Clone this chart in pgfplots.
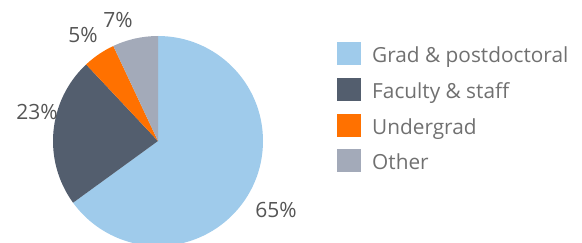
\documentclass[border=0pt]{standalone}
\usepackage{pgfplots}
\pgfplotsset{compat=1.18}
\usepackage{fontspec}
\setmainfont{Open Sans}
\definecolor{cgrad}{HTML}{9FCBEB}
\definecolor{cfac}{HTML}{535E6E}
\definecolor{cund}{HTML}{FF7100}
\definecolor{coth}{HTML}{A3AAB9}
\definecolor{clab}{HTML}{555555}
\definecolor{cleg}{HTML}{707070}
\begin{document}
\begin{tikzpicture}
\clip (0,0) rectangle (582bp,243bp);
\begin{axis}[at={(0,0)},anchor=south west,scale only axis,width=582bp,height=243bp,
  xmin=0,xmax=582,ymin=0,ymax=243,hide axis,clip=false]
\pgfplotsextra{
  \gdef\pieangle{90}
  \foreach \v/\c in {65/cgrad,23/cfac,5/cund,7/coth}{
    \pgfmathsetmacro\endangle{\pieangle-3.6*\v}
    \fill[\c] (axis cs:158,102) -- ++(\pieangle:105bp) arc[start angle=\pieangle,end angle=\endangle,radius=105bp] -- cycle;
    \global\let\pieangle\endangle
  }
}
\begin{scope}[every node/.style={font=\fontsize{21bp}{24bp}\selectfont,text=clab,inner sep=0pt}]
\node at (axis cs:276,33) {65\%};
\node at (axis cs:37,131) {23\%};
\node at (axis cs:83,208) {5\%};
\node at (axis cs:118,223) {7\%};
\end{scope}
\begin{scope}[every node/.style={font=\fontsize{20.8bp}{24bp}\selectfont,text=cleg,inner sep=0pt,anchor=base west}]
\fill[cgrad] (axis cs:337,178) rectangle (axis cs:361,201);
\node at (axis cs:372,180) {Grad \& postdoctoral};
\fill[cfac] (axis cs:337,142) rectangle (axis cs:361,165);
\node at (axis cs:372,144.5) {Faculty \& staff};
\fill[cund] (axis cs:337,106) rectangle (axis cs:361,129);
\node at (axis cs:372,108.5) {Undergrad};
\fill[coth] (axis cs:337,71) rectangle (axis cs:361,94);
\node at (axis cs:372,73) {Other};
\end{scope}
\end{axis}
\end{tikzpicture}
\end{document}
